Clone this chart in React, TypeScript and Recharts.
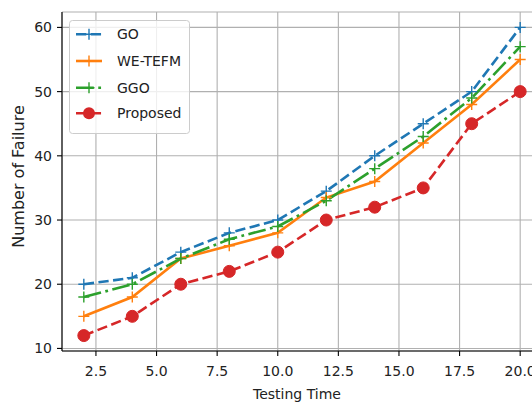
import React from 'react';
import { LineChart, Line, XAxis, YAxis, CartesianGrid, Legend } from 'recharts';

const testingTime = [2, 4, 6, 8, 10, 12, 14, 16, 18, 20];
const goValues = [20, 21, 25, 28, 30, 34.5, 40, 45, 50, 60];
const weTefmValues = [15, 18, 24, 26, 28, 33.5, 36, 42, 48, 55];
const ggoValues = [18, 20, 24, 27, 29, 33, 38, 43, 49, 57];
const proposedValues = [12, 15, 20, 22, 25, 30, 32, 35, 45, 50];
const xTicks = [2.5, 5.0, 7.5, 10.0, 12.5, 15.0, 17.5, 20.0];
const yTicks = [10, 20, 30, 40, 50, 60];
const seriesNames = ['GO', 'WE-TEFM', 'GGO', 'Proposed'];

const data = testingTime.map((t, i) => ({
  t,
  go: goValues[i],
  we: weTefmValues[i],
  ggo: ggoValues[i],
  prop: proposedValues[i],
}));

const FONT = '"DejaVu Sans", sans-serif';
const DASH = '10.3 4.45';
const DASHDOT = '17.8 4.45 2.8 4.45';
const COLORS = ['#1f77b4', '#ff7f0e', '#2ca02c', '#d62728'];

const PlusDot = (props: any) => {
  const { cx, cy, stroke } = props;
  if (cx == null || cy == null) return null;
  const h = 5.5;
  return (
    <path
      d={`M${cx - h},${cy}H${cx + h}M${cx},${cy - h}V${cy + h}`}
      stroke={stroke}
      strokeWidth={1.4}
      fill="none"
    />
  );
};

const CircleDot = (props: any) => {
  const { cx, cy } = props;
  if (cx == null || cy == null) return null;
  return <circle cx={cx} cy={cy} r={6} fill={COLORS[3]} stroke={COLORS[3]} strokeWidth={1} />;
};

const styles = [
  { dash: DASH, marker: 'plus' },
  { dash: undefined, marker: 'plus' },
  { dash: DASHDOT, marker: 'plus' },
  { dash: DASH, marker: 'circle' },
];

const LegendBox = () => {
  const rows = [14.3, 41, 67.7, 93.3];
  return (
    <svg width={121} height={114} style={{ display: 'block' }}>
      <rect x={0.5} y={0.5} width={120} height={113} rx={3} ry={3} fill="white" fillOpacity={0.8} stroke="#cccccc" strokeWidth={1} />
      {seriesNames.map((name, i) => {
        const y = rows[i];
        const c = COLORS[i];
        return (
          <g key={name}>
            <line x1={7} x2={33} y1={y} y2={y} stroke={c} strokeWidth={2.6} strokeDasharray={styles[i].dash} />
            {styles[i].marker === 'plus' ? (
              <path d={`M${20 - 5.5},${y}H${20 + 5.5}M20,${y - 5.5}V${y + 5.5}`} stroke={c} strokeWidth={1.4} />
            ) : (
              <circle cx={20} cy={y} r={6} fill={c} />
            )}
            <text x={48} y={y + 5} fontFamily={FONT} fontSize={14} fill="#222">
              {name}
            </text>
          </g>
        );
      })}
    </svg>
  );
};

export default function App() {
  return (
    <div
      style={{
        position: 'absolute',
        left: 0,
        top: 0,
        width: 532,
        height: 403,
        overflow: 'hidden',
        background: 'white',
      }}
    >
      <LineChart width={560} height={403} data={data} margin={{ top: 12, right: 18, bottom: 0, left: 2 }}>
        <CartesianGrid stroke="#b0b0b0" strokeWidth={1.1} />
        <XAxis
          dataKey="t"
          type="number"
          domain={[1.1, 20.9]}
          ticks={xTicks}
          tickFormatter={(v: number) => v.toFixed(1)}
          height={52}
          tickSize={5}
          tickMargin={10}
          stroke="#000"
          tick={{ fill: '#222', fontSize: 14, fontFamily: FONT }}
          axisLine={{ stroke: '#000', strokeWidth: 1.1 }}
          tickLine={{ stroke: '#000', strokeWidth: 1.1 }}
          allowDataOverflow
          label={(p: any) => (
            <text x={297} y={399} textAnchor="middle" fontFamily={FONT} fontSize={14} fill="#222">
              Testing Time
            </text>
          )}
        />
        <XAxis
          xAxisId="top"
          orientation="top"
          dataKey="t"
          type="number"
          domain={[1.1, 20.9]}
          height={0}
          tick={false}
          tickLine={false}
          axisLine={{ stroke: '#000', strokeWidth: 1.1 }}
        />
        <YAxis
          type="number"
          domain={[9.6, 62.4]}
          ticks={yTicks}
          width={60}
          tickSize={5}
          tickMargin={5}
          tick={{ fill: '#222', fontSize: 14, fontFamily: FONT }}
          axisLine={{ stroke: '#000', strokeWidth: 1.1 }}
          tickLine={{ stroke: '#000', strokeWidth: 1.1 }}
          allowDataOverflow
          label={(p: any) => (
            <text
              x={24}
              y={176.5}
              textAnchor="middle"
              transform="rotate(-90 24 176.5)"
              fontFamily={FONT}
              fontSize={16}
              fill="#222"
            >
              Number of Failure
            </text>
          )}
        />
        <Line
          dataKey="go"
          name="GO"
          stroke={COLORS[0]}
          strokeWidth={2.6}
          strokeDasharray={DASH}
          dot={<PlusDot />}
          activeDot={false}
          isAnimationActive={false}
        />
        <Line
          dataKey="we"
          name="WE-TEFM"
          stroke={COLORS[1]}
          strokeWidth={2.6}
          dot={<PlusDot />}
          activeDot={false}
          isAnimationActive={false}
        />
        <Line
          dataKey="ggo"
          name="GGO"
          stroke={COLORS[2]}
          strokeWidth={2.6}
          strokeDasharray={DASHDOT}
          dot={<PlusDot />}
          activeDot={false}
          isAnimationActive={false}
        />
        <Line
          dataKey="prop"
          name="Proposed"
          stroke={COLORS[3]}
          strokeWidth={2.6}
          strokeDasharray={DASH}
          dot={<CircleDot />}
          activeDot={false}
          isAnimationActive={false}
        />
        <Legend
          layout="vertical"
          align="center"
          verticalAlign="middle"
          content={() => <LegendBox />}
          wrapperStyle={{ position: 'absolute', left: 69, top: 20, width: 121, height: 114 }}
        />
      </LineChart>
    </div>
  );
}
